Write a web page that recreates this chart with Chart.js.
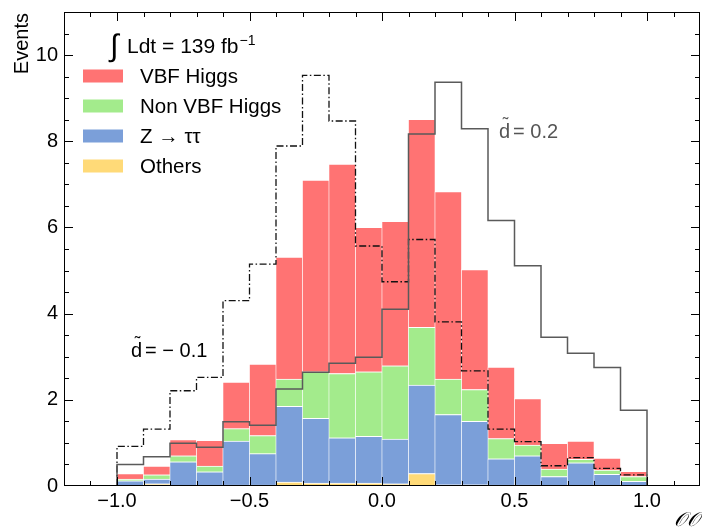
<!DOCTYPE html>
<html><head><meta charset="utf-8">
<script src="https://cdn.jsdelivr.net/npm/chart.js@4/dist/chart.umd.min.js"></script>
<style>html,body{margin:0;padding:0;background:#fff}#wrap{width:702px;height:530px}</style>
</head><body><div id="wrap"><canvas id="c" width="702" height="530"></canvas></div>
<script>
// ---- data ----
const binEdges = [-1.0,-0.9,-0.8,-0.7,-0.6,-0.5,-0.4,-0.3,-0.2,-0.1,0.0,0.1,0.2,0.3,0.4,0.5,0.6,0.7,0.8,0.9,1.0];
const others  = [0.01,0.05,0.01,0.01,0.02,0.02,0.09,0.07,0.07,0.07,0.05,0.29,0.03,0.03,0.02,0.02,0.01,0.01,0.01,0.01];
const zTauTau = [0.11,0.11,0.55,0.32,1.02,0.73,1.76,1.50,1.05,1.08,1.04,2.05,1.63,1.47,0.61,0.68,0.21,0.53,0.26,0.10];
const nonVBF  = [0.04,0.10,0.14,0.13,0.29,0.42,0.63,1.08,1.49,1.50,1.70,1.34,0.82,0.74,0.47,0.25,0.17,0.08,0.10,0.11];
const vbf     = [0.13,0.20,0.38,0.60,1.08,1.66,2.83,4.45,4.86,3.35,3.35,4.83,4.35,2.78,1.66,1.08,0.60,0.42,0.28,0.12];
const dPlus02  = [0.50,0.68,0.99,0.90,1.49,1.41,2.25,2.64,2.85,2.99,4.10,8.17,9.37,8.29,6.16,5.11,3.45,3.08,2.75,1.76];
const dMinus01 = [0.92,1.32,2.21,2.52,4.30,5.15,7.89,9.53,8.47,5.57,4.74,5.72,3.81,2.67,1.32,1.03,0.47,0.66,0.41,0.26];
const yTickValues = [0,2,4,6,8,10];
const xTickValues = [-1.0,-0.5,0.0,0.5,1.0];
const legendLabels = ['VBF Higgs','Non VBF Higgs','Z \u2192 \u03c4\u03c4','Others'];
const lumiText = 'Ldt = 139 fb';

const COL = {vbf:'#ff7373', nonvbf:'#a3eb8c', ztt:'#7b9fd9', oth:'#ffda78'};
const FONT = "'Liberation Sans', Arial, Helvetica, sans-serif";

const centers = vbf.map((_, i) => (binEdges[i] + binEdges[i+1]) / 2);
const barData = arr => arr.map((v, i) => ({x: centers[i], y: v}));
const stepData = arr => [{x: binEdges[0], y: 0}, ...arr.map((v, i) => ({x: binEdges[i], y: v})), {x: binEdges[binEdges.length-1], y: 0}];

function barDs(label, arr, color) {
  return {type:'bar', label, data: barData(arr), backgroundColor: color, borderColor:'#ffffff',
    borderWidth:{top:1,bottom:0,left:0.6,right:0.6}, borderSkipped:false,
    barPercentage:1.0, categoryPercentage:1.0, stack:'mc', order:2};
}

const decor = {
  id:'decor',
  afterDatasetsDraw(chart) {
    const {ctx, chartArea:a, scales:{x, y}} = chart;
    ctx.save();
    // frame
    ctx.strokeStyle = '#000'; ctx.lineWidth = 1;
    ctx.strokeRect(a.left + 0.5, a.top + 0.5, a.right - a.left - 1, a.bottom - a.top - 1);
    // x ticks (inward, bottom & top)
    ctx.beginPath();
    for (let k = -11; k <= 11; k++) {
      const v = k / 10; const px = Math.round(x.getPixelForValue(v)) + 0.5;
      const major = (k % 5 === 0); const L = major ? 9 : 5;
      ctx.moveTo(px, a.bottom); ctx.lineTo(px, a.bottom - L);
      ctx.moveTo(px, a.top); ctx.lineTo(px, a.top + L);
    }
    // y ticks (inward, left & right)
    for (let k = 1; k <= 21; k++) {
      const v = k / 2; const py = Math.round(y.getPixelForValue(v)) + 0.5;
      const major = (k % 4 === 0); const L = major ? 9 : 5;
      ctx.moveTo(a.left, py); ctx.lineTo(a.left + L, py);
      ctx.moveTo(a.right, py); ctx.lineTo(a.right - L, py);
    }
    ctx.stroke();

    // axis titles
    ctx.fillStyle = '#000';
    ctx.font = '20px ' + FONT;
    ctx.save();
    ctx.translate(28, 13); ctx.rotate(-Math.PI/2);
    ctx.textAlign = 'right'; ctx.textBaseline = 'alphabetic';
    ctx.fillText('Events', 0, 0);
    ctx.restore();
    ctx.font = 'italic 20px "DejaVu Serif", serif';
    ctx.textAlign = 'right'; ctx.textBaseline = 'alphabetic';
    ctx.fillText('\ud835\udcaa\ud835\udcaa', 700, 526);

    // luminosity
    ctx.textAlign = 'left';
    ctx.font = '31px ' + FONT;
    ctx.fillText('\u222b', 110, 56);
    ctx.font = '21px ' + FONT;
    ctx.fillText(lumiText, 127, 53);
    const w = ctx.measureText(lumiText).width;
    ctx.font = '14px ' + FONT;
    ctx.fillText('\u22121', 127 + w + 1, 45);

    // legend
    const cols = [COL.vbf, COL.nonvbf, COL.ztt, COL.oth];
    ctx.font = '20.5px ' + FONT; ctx.textBaseline = 'middle';
    legendLabels.forEach((t, i) => {
      const cy = 76 + i * 30;
      ctx.fillStyle = cols[i];
      ctx.fillRect(83, cy - 6.5, 40, 13);
      ctx.fillStyle = '#000';
      ctx.fillText(t, 140, cy + 1);
    });

    // annotations
    const ann = (txt, px, py, color) => {
      ctx.fillStyle = color; ctx.textBaseline = 'alphabetic'; ctx.textAlign = 'left';
      ctx.font = '20px ' + FONT;
      ctx.fillText('d', px, py);
      const dw = ctx.measureText('d').width;
      ctx.font = '17px ' + FONT;
      ctx.textAlign = 'center';
      ctx.fillText('\u02dc', px + dw/2 + 1, py - 9);
      ctx.textAlign = 'left';
      ctx.font = '20px ' + FONT;
      ctx.fillText(txt, px + dw + 3, py);
    };
    ann('= 0.2', 499, 138, '#555');
    ann('= \u2212 0.1', 131, 357, '#000');
    ctx.restore();
  }
};

new Chart(document.getElementById('c'), {
  data: {
    datasets: [
      barDs('Others', others, COL.oth),
      barDs('Z \u2192 \u03c4\u03c4', zTauTau, COL.ztt),
      barDs('Non VBF Higgs', nonVBF, COL.nonvbf),
      barDs('VBF Higgs', vbf, COL.vbf),
      {type:'line', label:'d=0.2', data: stepData(dPlus02), stepped:'before', borderColor:'#5a5a5a', borderWidth:1.5,
        pointRadius:0, fill:false, stack:'l1', order:0},
      {type:'line', label:'d=-0.1', data: stepData(dMinus01), stepped:'before', borderColor:'#111', borderWidth:1.3,
        borderDash:[7,2.5,1.5,2.5], pointRadius:0, fill:false, stack:'l2', order:1}
    ]
  },
  options: {
    responsive:false, animation:false, devicePixelRatio:1,
    layout:{padding:{top:12, right:2, left:0, bottom:0}},
    plugins:{legend:{display:false}, tooltip:{enabled:false}},
    scales:{
      x:{type:'linear', min:-1.2, max:1.2, offset:false,
        grid:{display:false, drawTicks:false}, border:{display:false},
        afterBuildTicks: s => { s.ticks = xTickValues.map(v => ({value:v})); },
        afterFit: s => { s.height = 44; s.paddingLeft = 0; s.paddingRight = 0; },
        ticks:{font:{size:20, family:FONT}, color:'#000', padding:3, maxRotation:0,
          callback: v => (v < 0 ? '\u2212' : '') + Math.abs(v).toFixed(1)}},
      y:{type:'linear', min:0, max:11, stacked:true,
        grid:{display:false, drawTicks:false}, border:{display:false},
        afterBuildTicks: s => { s.ticks = yTickValues.map(v => ({value:v})); },
        afterFit: s => { s.width = 64; s.paddingTop = 0; s.paddingBottom = 0; },
        ticks:{font:{size:20, family:FONT}, color:'#000', padding:6}}
    }
  },
  plugins:[decor]
});
</script></body></html>
